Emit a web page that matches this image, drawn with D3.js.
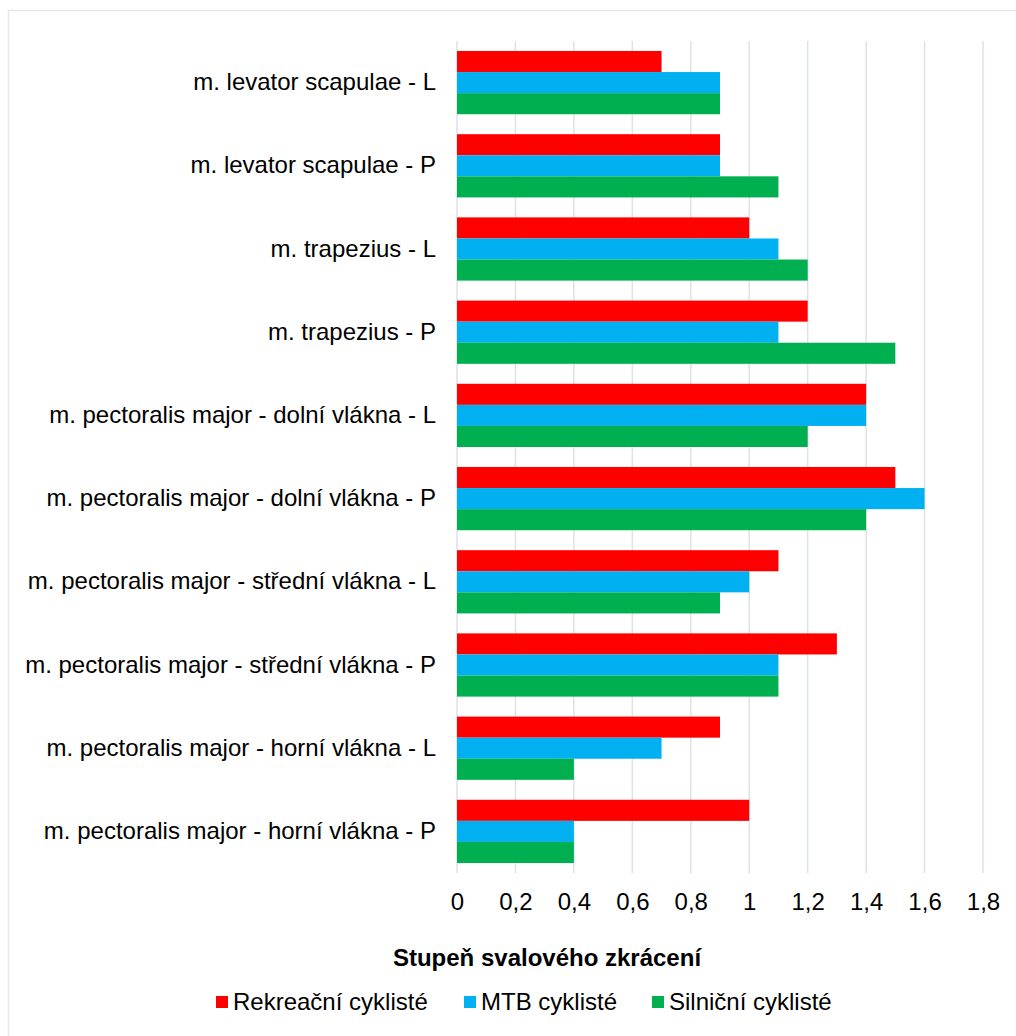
<!DOCTYPE html>
<html>
<head>
<meta charset="utf-8">
<script src="https://cdn.jsdelivr.net/npm/d3@7"></script>
<style>
  html, body { margin: 0; padding: 0; background: #fff; }
  svg { display: block; font-family: "Liberation Sans", Arial, sans-serif; }
</style>
</head>
<body>
<svg id="chart" width="1016" height="1036"></svg>
<script>
// Muscle categories, top to bottom
const categories = [
  "m. levator scapulae - L",
  "m. levator scapulae - P",
  "m. trapezius - L",
  "m. trapezius - P",
  "m. pectoralis major - dolní vlákna - L",
  "m. pectoralis major - dolní vlákna - P",
  "m. pectoralis major - střední vlákna - L",
  "m. pectoralis major - střední vlákna - P",
  "m. pectoralis major - horní vlákna - L",
  "m. pectoralis major - horní vlákna - P"
];

const seriesNames = ["Rekreační cyklisté", "MTB cyklisté", "Silniční cyklisté"];
const rekreacni = [0.7, 0.9, 1.0, 1.2, 1.4, 1.5, 1.1, 1.3, 0.9, 1.0];
const mtb       = [0.9, 0.9, 1.1, 1.1, 1.4, 1.6, 1.0, 1.1, 0.7, 0.4];
const silnicni  = [0.9, 1.1, 1.2, 1.5, 1.2, 1.4, 0.9, 1.1, 0.4, 0.4];
const seriesColors = ["#FF0000", "#00B0F0", "#00B050"];

const xTicks = [0, 0.2, 0.4, 0.6, 0.8, 1.0, 1.2, 1.4, 1.6, 1.8];
const xTitle = "Stupeň svalového zkrácení";

const seriesValues = [rekreacni, mtb, silnicni];
const rows = categories.map((c, i) => ({
  category: c,
  values: seriesNames.map((s, j) => ({ series: s, value: seriesValues[j][i], idx: j }))
}));

const FONT = "'Liberation Sans', Arial, sans-serif";
const FS = 24;

const svg = d3.select("#chart");

// Outer chart frame
svg.append("rect")
  .attr("x", 8.5).attr("y", 10.5)
  .attr("width", 1030).attr("height", 1040)
  .attr("fill", "none")
  .attr("stroke", "#e5e8ee")
  .attr("stroke-width", 1.5);

const plot = { left: 457, right: 983, top: 41, bottom: 873 };

const x = d3.scaleLinear().domain([0, 1.8]).range([plot.left, plot.right]);
const y = d3.scaleBand().domain(categories).range([plot.top, plot.bottom])
  .paddingInner(0.24).paddingOuter(0.12);
const ySub = d3.scaleBand().domain(seriesNames).range([0, y.bandwidth()]);

// Vertical gridlines
svg.append("g")
  .selectAll("line")
  .data(xTicks)
  .join("line")
  .attr("x1", d => x(d)).attr("x2", d => x(d))
  .attr("y1", plot.top).attr("y2", plot.bottom)
  .attr("stroke", "#dde1e8")
  .attr("stroke-width", 1.5);

// Bars
const groups = svg.append("g")
  .selectAll("g")
  .data(rows)
  .join("g")
  .attr("transform", d => `translate(0,${y(d.category)})`);

groups.selectAll("rect")
  .data(d => d.values)
  .join("rect")
  .attr("x", x(0))
  .attr("y", d => ySub(d.series))
  .attr("width", d => x(d.value) - x(0))
  .attr("height", ySub.bandwidth())
  .attr("fill", d => seriesColors[d.idx]);

// Category axis labels
const yAxis = d3.axisLeft(y).tickSize(0).tickPadding(21);
svg.append("g")
  .attr("transform", `translate(${plot.left},0)`)
  .call(yAxis)
  .call(g => g.select(".domain").remove())
  .call(g => g.selectAll("text")
    .attr("font-size", FS)
    .attr("font-family", FONT)
    .attr("fill", "#000"));

// Value axis labels
const fmt = d => d3.format("~g")(d).replace(".", ",");
const xAxis = d3.axisBottom(x).tickValues(xTicks).tickFormat(fmt).tickSize(0).tickPadding(20);
svg.append("g")
  .attr("transform", `translate(0,${plot.bottom})`)
  .call(xAxis)
  .call(g => g.select(".domain").remove())
  .call(g => g.selectAll("text")
    .attr("font-size", FS)
    .attr("font-family", FONT)
    .attr("fill", "#000"));

// Axis title
svg.append("text")
  .attr("x", 547).attr("y", 958)
  .attr("dy", "0.35em")
  .attr("text-anchor", "middle")
  .attr("font-size", FS)
  .attr("font-weight", "bold")
  .attr("font-family", FONT)
  .attr("fill", "#000")
  .text(xTitle);

// Legend
const legendX = [216, 464, 652];
const legend = svg.append("g")
  .selectAll("g")
  .data(seriesNames)
  .join("g")
  .attr("transform", (d, i) => `translate(${legendX[i]},1002)`);
legend.append("rect")
  .attr("x", 0).attr("y", -6)
  .attr("width", 12).attr("height", 12)
  .attr("fill", (d, i) => seriesColors[i]);
legend.append("text")
  .attr("x", 17).attr("y", 0)
  .attr("dy", "0.35em")
  .attr("font-size", FS)
  .attr("font-family", FONT)
  .attr("fill", "#000")
  .text(d => d);
</script>
</body>
</html>
